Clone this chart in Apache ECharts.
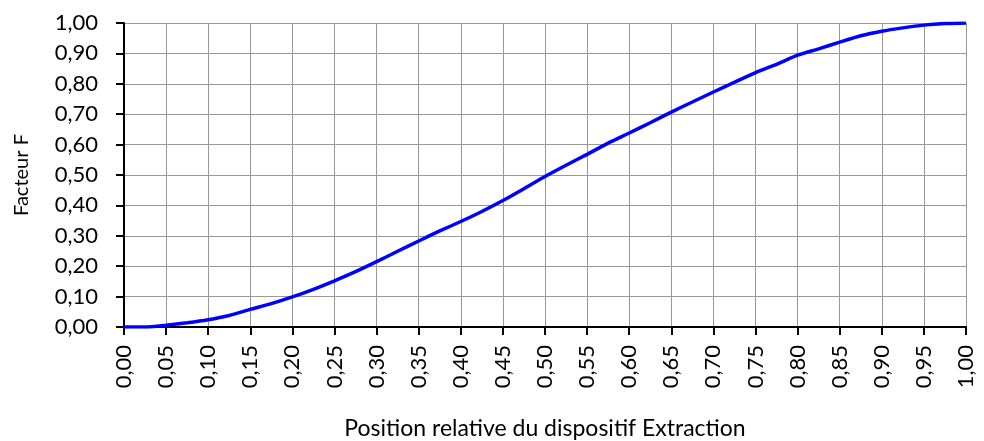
<!DOCTYPE html>
<html>
<head>
<meta charset="utf-8">
<script src="https://cdn.jsdelivr.net/npm/echarts@6/dist/echarts.min.js"></script>
<style>
  html, body { margin: 0; padding: 0; background: #fff; }
  #facteur-chart { width: 984px; height: 441px; }
</style>
</head>
<body>
<div id="facteur-chart"></div>
<script>
// Position relative (x) et facteur F (y)
var positions = [0.000, 0.025, 0.050, 0.075, 0.100, 0.125, 0.150, 0.175, 0.200, 0.225,
                 0.250, 0.275, 0.300, 0.325, 0.350, 0.375, 0.400, 0.425, 0.450, 0.475,
                 0.500, 0.525, 0.550, 0.575, 0.600, 0.625, 0.650, 0.675, 0.700, 0.725,
                 0.750, 0.775, 0.800, 0.825, 0.850, 0.875, 0.900, 0.925, 0.950, 0.975, 1.000];
var facteurF = [0.000, 0.000, 0.006, 0.014, 0.024, 0.038, 0.058, 0.077, 0.099, 0.124,
                0.152, 0.182, 0.215, 0.249, 0.283, 0.316, 0.347, 0.380, 0.416, 0.455,
                0.495, 0.532, 0.568, 0.605, 0.638, 0.672, 0.707, 0.740, 0.773, 0.805,
                0.837, 0.864, 0.894, 0.915, 0.937, 0.958, 0.973, 0.984, 0.993, 0.998, 1.000];

var xName = 'Position relative du dispositif Extraction';
var yName = 'Facteur F';

var points = [];
for (var i = 0; i < positions.length; i++) {
  points.push([positions[i], facteurF[i]]);
}

function virgule(v) {
  return v.toFixed(2).replace('.', ',');
}

var chartDiv = document.getElementById('facteur-chart');
var chart = echarts.init(chartDiv);

var police = 'Lato, "Liberation Sans", sans-serif';

option = {
  animation: false,
  backgroundColor: '#ffffff',
  grid: {
    left: 124,
    right: 18,
    top: 23,
    bottom: 114,
    outerBoundsMode: 'none'
  },
  xAxis: {
    type: 'value',
    min: 0,
    max: 1,
    interval: 0.05,
    name: xName,
    nameLocation: 'middle',
    nameGap: 90,
    nameTextStyle: { fontFamily: police, fontSize: 23, color: '#000' },
    axisLine: { lineStyle: { color: '#000', width: 2 } },
    axisTick: { show: true, length: 8, lineStyle: { color: '#000', width: 2 } },
    axisLabel: {
      rotate: 90,
      margin: 18,
      fontFamily: police,
      fontSize: 22,
      color: '#000',
      padding: [10, 0, 0, 0],
      formatter: virgule
    },
    splitLine: { show: true, lineStyle: { color: '#999', width: 1 } }
  },
  yAxis: {
    type: 'value',
    min: 0,
    max: 1,
    interval: 0.1,
    name: yName,
    nameLocation: 'middle',
    nameGap: 92,
    nameTextStyle: { fontFamily: police, fontSize: 20, color: '#000' },
    axisLine: { show: true, lineStyle: { color: '#000', width: 2 } },
    axisTick: { show: true, length: 8, lineStyle: { color: '#000', width: 2 } },
    axisLabel: {
      margin: 26,
      fontFamily: police,
      fontSize: 22,
      color: '#000',
      formatter: virgule
    },
    splitLine: { show: true, lineStyle: { color: '#999', width: 1 } }
  },
  series: [
    {
      name: yName,
      type: 'line',
      data: points,
      showSymbol: false,
      smooth: 0.2,
      lineStyle: { color: '#0000ff', width: 3.5 },
      itemStyle: { color: '#0000ff' }
    }
  ]
};

option && chart.setOption(option);
</script>
</body>
</html>
